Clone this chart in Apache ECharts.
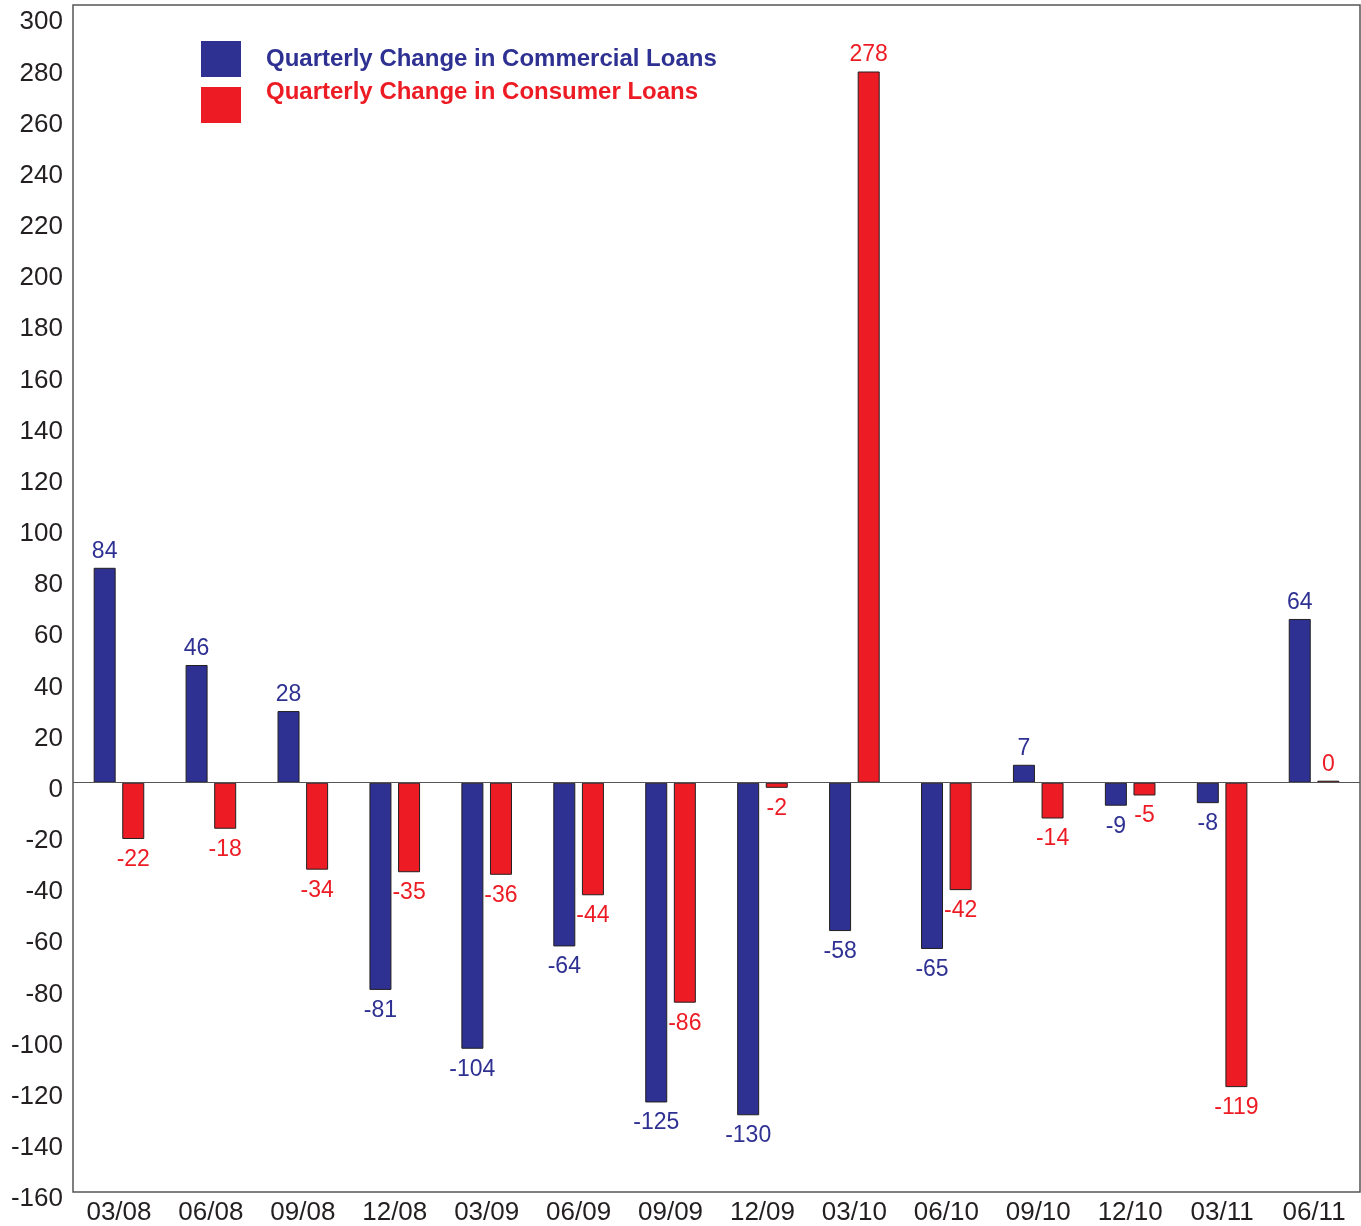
<!DOCTYPE html>
<html>
<head>
<meta charset="utf-8">
<script src="https://cdn.jsdelivr.net/npm/echarts@6/dist/echarts.min.js"></script>
<style>
  html, body { margin: 0; padding: 0; background: #fff; }
  #chart { width: 1361px; height: 1226px; }
</style>
</head>
<body>
<div id="chart"></div>
<script>
const quarters = ['03/08', '06/08', '09/08', '12/08', '03/09', '06/09', '09/09', '12/09', '03/10', '06/10', '09/10', '12/10', '03/11', '06/11'];
const commercialLoans = [84, 46, 28, -81, -104, -64, -125, -130, -58, -65, 7, -9, -8, 64];
const consumerLoans = [-22, -18, -34, -35, -36, -44, -86, -2, 278, -42, -14, -5, -119, 0];

const BLUE = '#2e3192';
const RED = '#ed1c24';
const FONT = 'Liberation Sans, Arial, sans-serif';

let chart = echarts.init(document.getElementById('chart'));

// labels above for positive values, below for negative
function seriesData(values, color) {
    return values.map(v => ({
        value: v,
        label: {
            show: true,
            color: color,
            fontSize: 23,
            fontFamily: FONT,
            distance: v < 0 ? 9 : 5,
            position: v < 0 ? 'bottom' : 'top'
        }
    }));
}

const option = {
    animation: false,
    backgroundColor: '#fff',
    grid: {
        left: 73,
        right: 1,
        top: 5,
        bottom: 31,
        show: true,
        borderColor: '#555',
        borderWidth: 1.5,
        containLabel: false
    },
    legend: {
        orient: 'vertical',
        left: 196,
        top: 36,
        itemWidth: 40,
        itemHeight: 36,
        itemGap: 3,
        icon: 'rect',
        itemStyle: { borderWidth: 0 },
        data: [
            { name: 'Quarterly Change in Commercial Loans' },
            { name: 'Quarterly Change in Consumer Loans' }
        ],
        formatter: name => (name.indexOf('Commercial') >= 0 ? '{a|' + name + '}' : '{b|' + name + '}'),
        textStyle: {
            fontSize: 24,
            fontWeight: 'bold',
            fontFamily: FONT,
            rich: {
                a: { color: BLUE, fontSize: 24, fontWeight: 'bold', fontFamily: FONT, padding: [0, 0, 0, 20] },
                b: { color: RED, fontSize: 24, fontWeight: 'bold', fontFamily: FONT, padding: [0, 0, 26, 20] }
            }
        }
    },
    xAxis: {
        type: 'category',
        data: quarters,
        axisLine: { onZero: false, show: false },
        axisTick: { show: false },
        axisLabel: {
            color: '#231f20',
            fontSize: 26,
            fontFamily: FONT,
            margin: 8
        }
    },
    yAxis: {
        type: 'value',
        min: -160,
        max: 304,
        interval: 20,
        axisLine: { show: false },
        axisTick: { show: false },
        splitLine: { show: false },
        axisLabel: {
            margin: 10,
            formatter: v => (v % 20 === 0 ? '{v|' + v + '}' : ''),
            rich: {
                v: { color: '#231f20', fontSize: 26, fontFamily: FONT, padding: [14, 0, 0, 0] }
            }
        }
    },
    series: [
        {
            name: 'Quarterly Change in Commercial Loans',
            type: 'bar',
            data: seriesData(commercialLoans, BLUE),
            barWidth: 22,
            barGap: '30%',
            itemStyle: { color: BLUE, borderColor: '#231f20', borderWidth: 1 },
            markLine: {
                silent: true,
                symbol: 'none',
                label: { show: false },
                lineStyle: { color: '#555', width: 1.2, type: 'solid' },
                data: [{ yAxis: 0 }]
            }
        },
        {
            name: 'Quarterly Change in Consumer Loans',
            type: 'bar',
            data: seriesData(consumerLoans, RED),
            barWidth: 22,
            barMinHeight: 2,
            itemStyle: { color: RED, borderColor: '#231f20', borderWidth: 1 }
        }
    ]
};

chart.setOption(option);
</script>
</body>
</html>
